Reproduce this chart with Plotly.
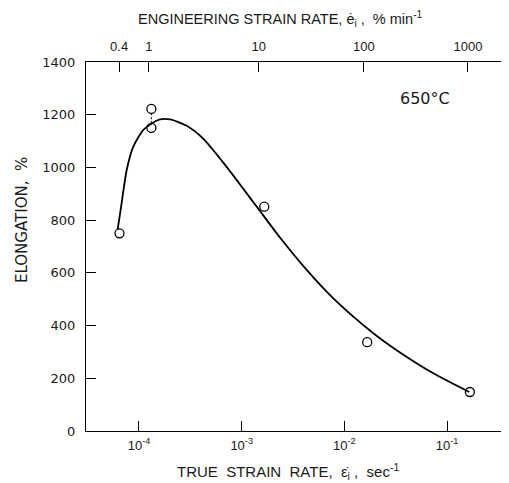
import plotly.graph_objects as go

# Measured data points (true strain rate, s^-1 ; elongation, %)
pt_rate = [6.46e-5, 1.32e-4, 1.32e-4, 1.66e-3, 1.67e-2, 0.167]
pt_elong = [750, 1222, 1150, 851, 337, 148]

# Smooth curve drawn through the data
curve_rate = [6.20e-5, 6.78e-5, 7.59e-5, 8.80e-5, 1.101e-4, 1.329e-4, 1.601e-4,
              2.004e-4, 2.914e-4, 4.200e-4, 6.624e-4, 1.037e-3, 1.452e-3,
              2.362e-3, 4.298e-3, 7.807e-3, 1.914e-2, 3.485e-2, 7.354e-2, 0.1649]
curve_elong = [765, 865, 990, 1079, 1142, 1167, 1182,
               1182, 1158, 1110, 1018, 919, 843,
               734, 611, 503, 371, 298, 219, 148]

# Scatter-band connector between the duplicate points
band_rate = [1.32e-4, 1.32e-4]
band_elong = [1168, 1204]

# Axis ticks
bottom_tickvals = [1e-4, 1e-3, 1e-2, 1e-1]
bottom_ticktext = ["10<sup>-4</sup>", "10<sup>-3</sup>", "10<sup>-2</sup>", "10<sup>-1</sup>"]
top_tickvals = [6.4e-5, 1.25e-4, 1.47e-3, 1.55e-2, 0.160]
top_ticktext = ["0.4", "1", "10", "100", "1000"]
y_tickvals = [0, 200, 400, 600, 800, 1000, 1200, 1400]

FONT = "Liberation Sans"
WIDE = "DejaVu Sans"
INK = "#1a1a1a"
x_range = [-4.516, -0.406]
NB = "\u00a0"

# page body adds an 8px offset; plot area spans x 86..508, y 62..431 in the window
OFF = 8
L, R, T, B = 86, 508, 62, 431
PW, PH = R - L, B - T

fig = go.Figure()
fig.add_trace(go.Scatter(x=curve_rate, y=curve_elong, mode="lines",
                         line=dict(color="black", width=1.8, shape="spline", smoothing=0.7),
                         hoverinfo="skip", showlegend=False))
fig.add_trace(go.Scatter(x=band_rate, y=band_elong, mode="lines",
                         line=dict(color="black", width=1, dash="2px,2px"),
                         hoverinfo="skip", showlegend=False))
fig.add_trace(go.Scatter(x=pt_rate, y=pt_elong, mode="markers",
                         marker=dict(symbol="circle-open", size=9, color="black",
                                     line=dict(width=1.3, color="black")),
                         showlegend=False))
# invisible trace on the top axis so it renders
fig.add_trace(go.Scatter(x=[top_tickvals[0]], y=[0], xaxis="x2", yaxis="y2",
                         mode="markers", marker=dict(opacity=0), hoverinfo="skip",
                         showlegend=False))

fig.update_layout(
    width=509 - OFF, height=483 - OFF,
    margin=dict(l=L - OFF, r=1, t=T - OFF, b=483 - B),
    paper_bgcolor="white", plot_bgcolor="white",
    font=dict(family=FONT, size=13, color=INK),
    xaxis=dict(type="log", range=x_range, tickvals=bottom_tickvals, ticktext=bottom_ticktext,
               ticks="inside", ticklen=10, tickwidth=1.2, tickcolor="black",
               showline=True, linecolor="black", linewidth=1.3, showgrid=False,
               zeroline=False, tickfont=dict(size=13, color=INK), ticklabelstandoff=2),
    xaxis2=dict(type="log", range=x_range, overlaying="x", side="top", anchor="y",
                tickvals=top_tickvals, ticktext=top_ticktext,
                ticks="inside", ticklen=10, tickwidth=1.2, tickcolor="black",
                showline=True, linecolor="black", linewidth=1.3, showgrid=False,
                zeroline=False, tickfont=dict(size=13, color=INK), ticklabelstandoff=5),
    yaxis=dict(range=[0, 1400], tickvals=y_tickvals,
               ticks="inside", ticklen=10, tickwidth=1.2, tickcolor="black",
               showline=True, linecolor="black", linewidth=1.3, showgrid=False,
               zeroline=False, tickfont=dict(family=WIDE, size=13, color=INK),
               ticklabelstandoff=7),
    yaxis2=dict(range=[0, 1400], overlaying="y", side="right", anchor="x",
                tickvals=y_tickvals, showticklabels=False,
                ticks="inside", ticklen=5, tickwidth=1.2, tickcolor="black",
                showline=True, linecolor="black", linewidth=1.3, showgrid=False,
                zeroline=False),
    annotations=[
        dict(text="ENGINEERING STRAIN RATE, ė<sub>i</sub> ," + NB + " % min<sup>-1</sup>",
             xref="paper", yref="paper", x=(280 - L) / PW, y=1 + (T - 19) / PH,
             showarrow=False, font=dict(size=14.5, color=INK), xanchor="center", yanchor="middle"),
        dict(text="TRUE" + NB * 2 + "STRAIN" + NB * 2 + "RATE," + NB * 2 + "ε̇<sub>i</sub>" + NB
                  + "," + NB * 2 + "sec<sup>-1</sup>",
             xref="paper", yref="paper", x=(288 - L) / PW, y=-(471 - B) / PH,
             showarrow=False, font=dict(size=15, color=INK), xanchor="center", yanchor="middle"),
        dict(text="ELONGATION," + NB * 2 + "%", textangle=-90,
             xref="paper", yref="paper", x=(22 - L) / PW, y=1 - (220 - T) / PH,
             showarrow=False, font=dict(family=WIDE, size=15, color=INK),
             xanchor="center", yanchor="middle"),
        dict(text="650°C", xref="paper", yref="paper", x=(425 - L) / PW, y=1 - (98 - T) / PH,
             showarrow=False, font=dict(family=WIDE, size=16, color=INK),
             xanchor="center", yanchor="middle"),
    ],
)

fig.write_html("out.html")
